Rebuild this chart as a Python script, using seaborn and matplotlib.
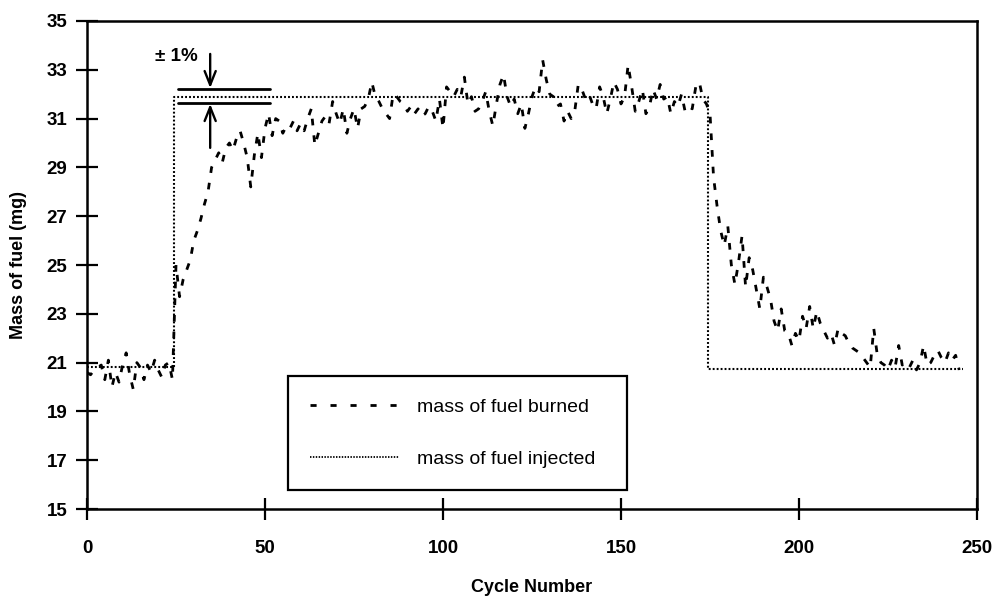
import numpy as np
import pandas as pd
import matplotlib
matplotlib.use("Agg")
import matplotlib.pyplot as plt
import seaborn as sns
from matplotlib.lines import Line2D

# ---------------- data ----------------
burned_p1 = [20.6, 20.5, 20.7, 20.8, 20.9, 20.3, 21.1, 20.0, 20.6, 20.2,
             20.9, 21.4, 20.5, 19.9, 21.0, 20.8, 20.3, 20.9, 20.6, 21.1,
             20.7, 20.4, 20.9, 21.0, 20.3]                      # cycles 0-24
burned_p2 = [25.0, 23.7, 24.4, 24.8, 25.2, 26.0, 26.4, 26.9, 27.5, 28.0,
             29.0, 29.3, 29.6, 29.2, 29.8, 30.0, 29.7, 30.2, 30.5, 30.0,
             29.4, 28.2, 29.5, 30.4, 29.4, 30.6, 31.2, 30.3, 31.0]  # cycles 25-53
burned_p3 = [30.9, 30.4, 30.7, 30.6, 30.9, 30.5, 30.8, 30.5, 31.0, 31.4,
             29.9, 30.4, 30.9, 31.1, 30.8, 31.7, 31.2, 30.8, 31.4, 30.4,
             31.0, 31.4, 30.6, 31.4, 31.5, 31.8, 32.5, 31.9, 31.7, 31.4,
             31.2, 31.0, 32.0, 31.9, 31.7, 31.6, 31.3, 31.5]        # cycles 54-91
burned_p4 = [31.2, 31.4, 31.1, 31.2, 31.5, 31.3, 30.9, 31.8, 30.6, 32.3,
             32.1, 31.9, 32.2, 31.9, 32.7, 31.6, 31.9, 31.3, 31.4, 31.7,
             32.1, 31.3, 30.7, 31.6, 32.4, 32.8, 31.9, 31.5, 31.8, 31.2,
             31.6, 30.6, 31.2, 31.9, 32.3, 32.1, 33.4, 32.6, 32.0, 31.9,
             31.5, 31.6, 30.9, 31.3]                                  # cycles 92-135
burned_p5 = [31.0, 31.3, 32.4, 32.2, 31.8, 32.0, 31.6, 31.4, 32.3, 31.9,
             31.2, 31.8, 32.5, 32.2, 31.6, 31.9, 33.2, 32.3, 31.3, 31.7,
             32.2, 31.2, 31.5, 32.2, 31.8, 32.4, 31.8, 31.9, 31.2, 31.7,
             31.5, 32.0, 31.3, 31.5, 31.4, 32.3, 32.5, 31.8, 31.6]  # cycles 136-174
burned_p6 = [31.2, 28.6, 27.4, 26.4, 25.8, 26.6, 25.0, 24.2, 25.1, 26.2,
             24.1, 25.3, 24.8, 24.0, 23.2, 24.5, 24.1, 23.6, 22.7, 22.3,
             23.2, 22.3, 22.2, 21.7, 22.2, 21.9, 22.9, 22.4, 23.3, 22.4,
             23.1, 22.6, 22.3, 22.0, 22.2, 21.7, 22.4, 22.2, 22.1, 21.8,
             21.6, 21.5, 21.4, 21.2, 21.0, 20.8, 22.4, 21.3, 21.0, 20.9,
             20.7, 21.1, 20.8, 21.7, 20.9, 21.0, 20.8, 21.1, 20.7, 21.0,
             21.7, 20.9, 21.0, 21.3, 21.5, 21.2, 21.0, 21.4, 21.1, 21.3,
             20.7]                                                    # cycles 175-245
burned = burned_p1 + burned_p2 + burned_p3 + burned_p4 + burned_p5 + burned_p6
cycles = list(range(len(burned)))

injected_x = [0, 24.5, 24.5, 174.5, 174.5, 246]
injected_y = [20.8, 20.8, 31.9, 31.9, 20.75, 20.75]

band_upper = 32.2
band_lower = 31.65

x_ticks = [0, 50, 100, 150, 200, 250]
y_ticks = [15, 17, 19, 21, 23, 25, 27, 29, 31, 33, 35]

df_burn = pd.DataFrame({"cycle": cycles, "mass": burned})
df_inj = pd.DataFrame({"cycle": injected_x, "mass": injected_y})

# ---------------- style ----------------
sns.set_style("white")
plt.rcParams["font.family"] = ["Liberation Sans", "DejaVu Sans"]
for k in ["text.color", "axes.labelcolor", "xtick.color", "ytick.color",
          "axes.edgecolor"]:
    plt.rcParams[k] = "black"

fig = plt.figure(figsize=(9.95, 5.96), dpi=100)
ax = fig.add_axes([87 / 995, 1 - 509 / 596, 890 / 995, 488 / 596])

sns.lineplot(data=df_burn, x="cycle", y="mass", ax=ax, color="black",
             linewidth=2.0, linestyle=(0, (2.4, 3.6)), sort=False,
             estimator=None)
sns.lineplot(data=df_inj, x="cycle", y="mass", ax=ax, color="black",
             linewidth=1.5, linestyle=(0, (0.9, 1.0)), sort=False,
             estimator=None)

# ±1% band lines
ax.plot([25.5, 51.5], [band_upper, band_upper], color="black", lw=2.0)
ax.plot([25.5, 51.5], [band_lower, band_lower], color="black", lw=2.0)
arrow_kw = dict(arrowstyle="->,head_length=1.0,head_width=0.4",
                color="black", lw=1.7, shrinkA=0, shrinkB=0)
ax.annotate("", xy=(34.6, band_upper + 0.05), xytext=(34.6, 33.65),
            arrowprops=arrow_kw)
ax.annotate("", xy=(34.6, band_lower - 0.05), xytext=(34.6, 29.8),
            arrowprops=arrow_kw)
ax.text(31.2, 33.55, "± 1%", ha="right", va="center", fontsize=13.5,
        fontweight="bold")

# axes
ax.set_xlim(0, 250)
ax.set_ylim(15, 35)
ax.set_xticks(x_ticks)
ax.set_yticks(y_ticks)
ax.tick_params(axis="y", direction="inout", length=16, width=1.6,
               labelsize=13.5, pad=6, left=True, right=False)
ax.tick_params(axis="x", direction="inout", length=16, width=1.6,
               labelsize=13.5, pad=14, bottom=True, top=False)
for lab in ax.get_xticklabels() + ax.get_yticklabels():
    lab.set_fontweight("bold")
for s in ax.spines.values():
    s.set_visible(True)
    s.set_color("black")
    s.set_linewidth(1.8)

ax.set_xlabel("Cycle Number", fontsize=13, fontweight="bold", labelpad=16)
ax.set_ylabel("Mass of fuel (mg)", fontsize=13, fontweight="bold",
              labelpad=14)
ax.grid(False)

handles = [
    Line2D([], [], color="black", lw=2.0, linestyle=(0, (2.2, 5.0))),
    Line2D([], [], color="black", lw=1.3, linestyle=(0, (0.8, 0.8))),
]
leg = ax.legend(handles, ["mass of fuel burned", "mass of fuel injected"],
                loc="lower left",
                bbox_to_anchor=(201 / 890, 19 / 488, 339 / 890, 122 / 488),
                mode="expand", borderaxespad=0, fontsize=14,
                handlelength=4.6, handletextpad=0.9, labelspacing=1.8,
                borderpad=1.12, fancybox=False, framealpha=1,
                edgecolor="black")
leg.get_frame().set_linewidth(1.6)
for t in leg.get_texts():
    t.set_color("black")

fig.savefig("out.png", dpi=100)
